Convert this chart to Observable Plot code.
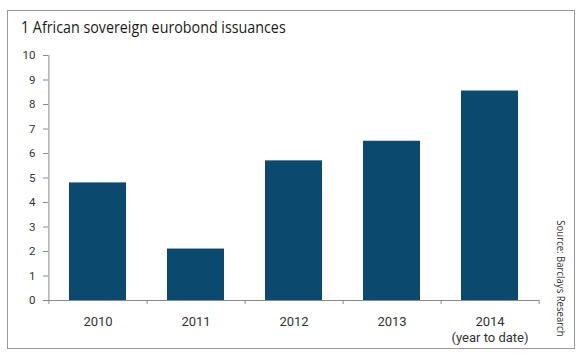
<!DOCTYPE html>
<html><head><meta charset="utf-8">
<script src="https://cdn.jsdelivr.net/npm/d3@7"></script>
<script src="https://cdn.jsdelivr.net/npm/@observablehq/plot@0.6"></script>
<style>
body{margin:0;background:#fff;}
#frame{position:absolute;left:7px;top:10px;width:566px;height:337px;border:1px solid #9a9a9a;}
#title{position:absolute;left:21px;top:15px;font-family:"Open Sans",sans-serif;font-size:17px;color:#1a1a1a;white-space:nowrap;transform:scaleX(0.84);transform-origin:left top;}
#source{position:absolute;left:554px;bottom:21px;writing-mode:vertical-rl;font-family:"Open Sans",sans-serif;font-size:11px;color:#333;white-space:nowrap;transform:scaleY(0.87);transform-origin:left bottom;}
#chart{position:absolute;left:0;top:0;}
</style></head>
<body>
<div id="frame"></div>
<div id="title">1 African sovereign eurobond issuances</div>
<div id="source">Source: Barclays Research</div>
<div id="chart"></div>
<script>
const years = ["2010", "2011", "2012", "2013", "2014"];
const yearLabels = ["2010", "2011", "2012", "2013", "2014\n(year to date)"];
const values = [4.8, 2.1, 5.7, 6.5, 8.55];
const yTicks = [0, 1, 2, 3, 4, 5, 6, 7, 8, 9, 10];

const data = years.map((y, i) => ({year: y, value: values[i]}));
const W = 580, H = 358, mL = 48, mR = 41, mT = 55, mB = 58;
const step = (W - mL - mR) / years.length;
const axisColor = "#8a8a8a";
const font = "'Liberation Sans Narrow', 'Roboto', sans-serif";

const chart = Plot.plot({
  width: W, height: H,
  marginLeft: mL, marginRight: mR, marginTop: mT, marginBottom: mB,
  style: {fontFamily: font, fontSize: "12px", color: "#333", background: "transparent"},
  x: {domain: years, paddingInner: 0.42, paddingOuter: 0.21, label: null},
  y: {domain: [0, 10], label: null},
  marks: [
    Plot.barY(data, {x: "year", y: "value", fill: "#0b4a6e"}),
    Plot.ruleY([0], {stroke: axisColor}),
    Plot.ruleX([years[0]], {dx: -step / 2, y1: () => 0, y2: () => 10, stroke: axisColor}),
    Plot.ruleX(years, {dx: step / 2, y1: () => 0, y2: () => 0, insetBottom: -4, stroke: axisColor}),
    Plot.ruleX([years[0]], {dx: -step / 2, y1: () => 0, y2: () => 0, insetBottom: -4, stroke: axisColor}),
    Plot.axisY({ticks: yTicks, tickSize: 5, tickPadding: 8, stroke: axisColor, fill: "#333", fontSize: 11.5, label: null}),
    Plot.axisX({tickSize: 0, tickPadding: 14, fill: "#333", fontSize: 13, lineHeight: 1.25,
      tickFormat: (d) => yearLabels[years.indexOf(d)], label: null})
  ]
});
document.getElementById("chart").appendChild(chart);
</script>
</body></html>
